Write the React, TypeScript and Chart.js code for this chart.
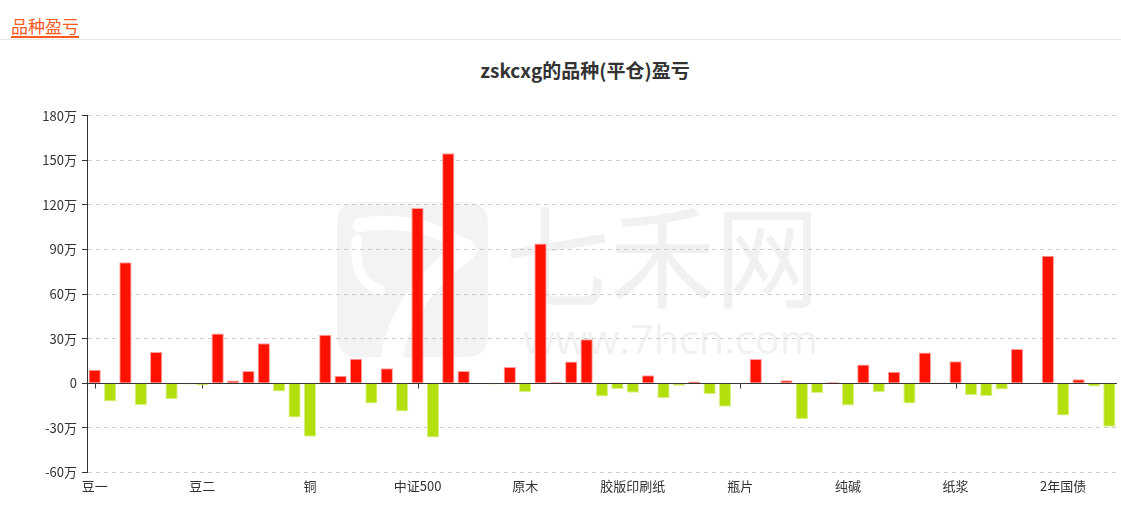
import React, { useEffect, useRef } from "react";
import { Chart, registerables } from "chart.js";

Chart.register(...registerables);

const categories: string[] = [
  "豆一", "豆粕", "豆油", "玉米", "棕榈油", "鸡蛋", "生猪",
  "豆二", "铁矿石", "焦炭", "焦煤", "聚丙烯", "塑料", "PVC",
  "铜", "铝", "锌", "镍", "锡", "螺纹钢", "热卷",
  "中证500", "沪深300", "上证50", "中证1000", "白银", "黄金", "原油",
  "原木", "燃料油", "沥青", "橡胶", "20号胶", "丁二烯橡胶", "甲醇",
  "胶版印刷纸", "PTA", "短纤", "乙二醇", "苯乙烯", "液化气", "不锈钢",
  "瓶片", "烧碱", "玻璃", "尿素", "硅铁", "锰硅", "工业硅",
  "纯碱", "碳酸锂", "多晶硅", "棉花", "白糖", "菜粕", "菜油",
  "纸浆", "苹果", "红枣", "花生", "集运指数", "10年国债", "5年国债",
  "2年国债", "30年国债", "氧化铝", "对二甲苯",
];

// profit / loss in 万
const profits: number[] = [
  9.0, -12.3, 81.4, -14.8, 20.9, -10.8, -0.9,
  -1.6, 33.4, 1.8, 8.1, 26.9, -5.6, -23.1,
  -36.1, 32.5, 4.9, 16.4, -13.7, 10.1, -19.1,
  117.8, -36.6, 154.8, 8.1, -0.4, -0.9, 10.8,
  -6.1, 94.0, 0.7, 14.6, 29.6, -9.0, -4.0,
  -6.5, 5.4, -10.1, -1.8, 1.1, -7.4, -15.9,
  -0.7, 16.2, 0, 2.0, -24.2, -6.7, 0.7,
  -15.0, 12.6, -6.1, 7.6, -13.7, 20.6, 0.5,
  14.8, -7.9, -8.7, -4.3, 22.9, -0.3, 85.7,
  -21.8, 2.7, -2.2, -29.4,
];

const yTicks: number[] = [-60, -30, 0, 30, 60, 90, 120, 150, 180];
const labelEvery = 7;

const FONT = '"Noto Sans CJK SC", "Noto Sans", sans-serif';
const RED = "#ff1100";
const GREEN = "#b3e00c";

const watermarkPlugin = {
  id: "watermark",
  beforeDraw(chart: any) {
    const ctx = chart.ctx as CanvasRenderingContext2D;
    ctx.save();
    const x = 337, y = 202, w = 151, h = 155, r = 22;
    ctx.fillStyle = "#f3f3f3";
    ctx.beginPath();
    ctx.moveTo(x + r, y);
    ctx.lineTo(x + w - r, y);
    ctx.quadraticCurveTo(x + w, y, x + w, y + r);
    ctx.lineTo(x + w, y + h - r);
    ctx.quadraticCurveTo(x + w, y + h, x + w - r, y + h);
    ctx.lineTo(x + r, y + h);
    ctx.quadraticCurveTo(x, y + h, x, y + h - r);
    ctx.lineTo(x, y + r);
    ctx.quadraticCurveTo(x, y, x + r, y);
    ctx.fill();
    ctx.strokeStyle = "#ffffff";
    ctx.lineWidth = 14;
    ctx.lineCap = "round";
    ctx.beginPath();
    ctx.moveTo(360, 225);
    ctx.quadraticCurveTo(420, 215, 470, 250);
    ctx.stroke();
    ctx.lineWidth = 22;
    ctx.beginPath();
    ctx.moveTo(465, 250);
    ctx.quadraticCurveTo(400, 300, 392, 357);
    ctx.stroke();
    ctx.lineWidth = 10;
    ctx.beginPath();
    ctx.moveTo(357, 240);
    ctx.quadraticCurveTo(352, 280, 380, 290);
    ctx.stroke();
    ctx.fillStyle = "#f1f1f1";
    ctx.textBaseline = "alphabetic";
    ctx.textAlign = "left";
    ctx.font = `112px ${FONT}`;
    const t1 = "七禾网";
    const m1 = ctx.measureText(t1).width;
    ctx.save();
    ctx.translate(505, 300);
    ctx.scale(315 / m1, 1);
    ctx.fillText(t1, 0, 0);
    ctx.restore();
    ctx.font = `40px "Open Sans", sans-serif`;
    const t2 = "www.7hcn.com";
    const m2 = ctx.measureText(t2).width;
    ctx.save();
    ctx.translate(523, 354);
    ctx.scale(295 / m2, 1);
    ctx.fillText(t2, 0, 0);
    ctx.restore();
    ctx.restore();
  },
};

const zeroTickPlugin = {
  id: "zeroTicks",
  beforeDatasetsDraw(chart: any) {
    const ctx = chart.ctx as CanvasRenderingContext2D;
    const xs = chart.scales.x;
    const ys = chart.scales.y;
    const y0 = Math.round(ys.getPixelForValue(0)) + 0.5;
    ctx.save();
    ctx.strokeStyle = "#333";
    ctx.lineWidth = 1;
    ctx.beginPath();
    ctx.moveTo(chart.chartArea.left, y0);
    ctx.lineTo(chart.chartArea.right, y0);
    for (let i = 0; i < categories.length; i += labelEvery) {
      const px = Math.round(xs.getPixelForValue(i)) + 0.5;
      ctx.moveTo(px, y0);
      ctx.lineTo(px, y0 + 5);
    }
    ctx.stroke();
    ctx.restore();
  },
};

export default function App() {
  const ref = useRef<HTMLCanvasElement | null>(null);

  useEffect(() => {
    document.body.style.margin = "0";
    const canvas = ref.current;
    if (!canvas) return;
    const chart = new Chart(canvas, {
      type: "bar",
      data: {
        labels: categories,
        datasets: [
          {
            data: profits,
            backgroundColor: (c: any) => ((c.raw ?? 0) >= 0 ? RED : GREEN),
            borderColor: (c: any) => ((c.raw ?? 0) >= 0 ? "#ff9f9f" : "#dcf08a"),
            borderWidth: 1,
            borderSkipped: "start",
            categoryPercentage: 1,
            barPercentage: 0.8,
          },
        ],
      },
      options: {
        animation: false,
        responsive: false,
        devicePixelRatio: 1,
        layout: { padding: { left: 0, right: 4, top: 115.7, bottom: 0 } },
        plugins: {
          legend: { display: false },
          tooltip: { enabled: false },
          title: { display: false },
        },
        scales: {
          x: {
            type: "category",
            grid: { display: false, drawTicks: false },
            border: { display: false },
            ticks: {
              autoSkip: false,
              maxRotation: 0,
              minRotation: 0,
              padding: 6,
              color: "#333",
              font: { family: FONT, size: 13 },
              callback: (_v: any, i: number) => (i % labelEvery === 0 ? categories[i] : ""),
            },
            afterFit: (s: any) => {
              s.height = 38.7;
            },
          },
          y: {
            min: -60,
            max: 180,
            afterBuildTicks: (s: any) => {
              s.ticks = yTicks.map((v) => ({ value: v }));
            },
            grid: {
              color: "#cccccc",
              lineWidth: 1,
              drawTicks: true,
              tickLength: 5,
              tickColor: "#333",
              tickBorderDash: [],
            },
            border: { display: true, color: "#333", width: 1, dash: [4, 4] },
            ticks: {
              padding: 5,
              color: "#333",
              font: { family: FONT, size: 13 },
              callback: (v: any) => (Number(v) === 0 ? "0" : `${v}万`),
            },
            afterFit: (s: any) => {
              s.width = 87;
            },
          },
        },
      } as any,
      plugins: [watermarkPlugin, zeroTickPlugin],
    });
    return () => chart.destroy();
  }, []);

  return (
    <div
      style={{
        position: "relative",
        width: 1121,
        height: 511,
        overflow: "hidden",
        background: "#fff",
        fontFamily: FONT,
      }}
    >
      <div
        style={{
          position: "absolute",
          left: 0,
          right: 0,
          top: 38.5,
          height: 1,
          background: "#e8e8e8",
        }}
      />
      <div
        style={{
          position: "absolute",
          left: 11,
          top: 15,
          fontSize: 17,
          lineHeight: "21px",
          color: "#ff5a1f",
          borderBottom: "2.5px solid #ff5a1f",
          paddingBottom: 0,
        }}
      >
        品种盈亏
      </div>
      <div
        style={{
          position: "absolute",
          left: 385,
          width: 400,
          top: 57,
          textAlign: "center",
          fontSize: 19,
          fontWeight: "bold",
          lineHeight: "26px",
          color: "#333",
        }}
      >
        zskcxg的品种(平仓)盈亏
      </div>
      <canvas
        ref={ref}
        width={1121}
        height={511}
        style={{ position: "absolute", left: 0, top: 0, width: 1121, height: 511 }}
      />
    </div>
  );
}
